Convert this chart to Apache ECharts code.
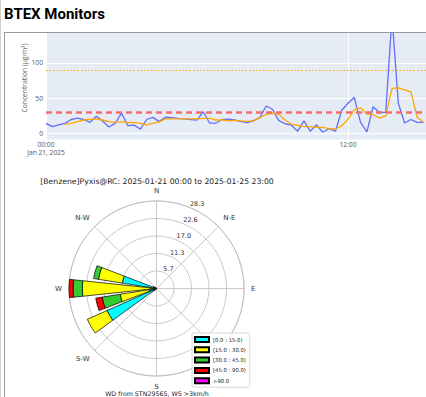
<!DOCTYPE html>
<html>
<head>
<meta charset="utf-8">
<script src="https://cdn.jsdelivr.net/npm/echarts@6/dist/echarts.min.js"></script>
<style>
  html, body { margin: 0; padding: 0; width: 426px; height: 397px; overflow: hidden; background: #fff; }
  #edge { position: absolute; left: 0; top: 0; width: 1px; height: 397px; background: #d0d0d0; }
  h2 { position: absolute; left: 4px; top: 5px; margin: 0; font: 700 15px Roboto, sans-serif; color: #000; }
  #box { position: absolute; left: 4px; top: 32px; width: 460px; height: 420px; border: 1px solid #999; }
  #chart { position: absolute; left: 0; top: 0; width: 426px; height: 397px; }
</style>
</head>
<body>
<div id="edge"></div>
<h2>BTEX Monitors</h2>
<div id="box"></div>
<div id="chart"></div>
<script>
  // 15-min readings from 2025-01-21 00:00
  const startTime = new Date(2025, 0, 21, 0, 0).getTime()
  const benzene = [14.6, 9.9, 12.5, 14.6, 20, 22, 20, 16, 24.5, 18, 9.5, 14.5, 29, 11.5, 12, 6.5,
    20, 23, 17, 23.5, 22.5, 21.5, 21, 20, 19, 31, 15, 15, 20, 20.5, 19.5, 17, 15.5, 18.5, 23, 39,
    34.5, 18.5, 14, 12, 3.5, 18, 3.5, 12.5, 2, 7, 3.5, 33, 43, 51, 16, 2.5, 38, 30, 30, 165, 43,
    15, 20, 16, 16]
  const benzeneAvg = [null, null, null, 13.2, 14.6, 17, 19.3, 20.3, 21, 19.3, 17, 16, 17, 15.6, 16,
    14.6, 12.3, 14.6, 16.5, 20.8, 20.8, 20.8, 20.8, 20.8, 20.8, 21.7, 21.7, 19.3, 19.3, 18.4, 18.9,
    18, 17.5, 18, 22.6, 27.4, 28.8, 27.4, 19.3, 13.2, 11.8, 9.9, 9.9, 9, 9, 7, 6.6, 11.3, 20.3, 34,
    36.5, 27.6, 27, 21.8, 25, 64, 64.6, 61.8, 59, 23, 16]
  const limitHigh = 90
  const limitLow = 30
  const yTicks = [0, 50, 100]

  // wind rose, 24 sectors of 15 deg starting at N
  const sectors = ['0', '15', '30', '45', '60', '75', '90', '105', '120', '135', '150', '165',
    '180', '195', '210', '225', '240', '255', '270', '285', '300', '315', '330', '345']
  // S-E sits under the legend in the original, so it is left blank
  const compass = ['N', 'N-E', 'E', '', 'S', 'S-W', 'W', 'N-W']
  const bin0 = [0, 0, 0, 0, 0, 0, 0, 0, 0, 0, 0, 0, 0, 0, 0, 1.0, 17.5, 2.5, 2, 11.2, 0.6, 0.5, 0, 0]
  const bin1 = [0, 0, 0, 0, 0, 0, 0, 0, 0, 0, 0, 0, 0, 0, 0, 0, 7.0, 9.4, 22, 7.8, 0.6, 0, 0, 0]
  const bin2 = [0, 0, 0, 0, 0, 0, 0, 0, 0, 0, 0, 0, 0, 0, 0, 0, 0, 5.9, 3, 1.6, 0, 0, 0, 0]
  const bin3 = [0, 0, 0, 0, 0, 0, 0, 0, 0, 0, 0, 0, 0, 0, 0, 0, 0, 2.1, 1.3, 0, 0, 0, 0, 0]
  const bin4 = [0, 0, 0, 0, 0, 0, 0, 0, 0, 0, 0, 0, 0, 0, 0, 0, 0, 0, 0, 0, 0, 0, 0, 0]
  const binNames = ['[0.0 : 15.0)', '[15.0 : 30.0)', '[30.0 : 45.0)', '[45.0 : 90.0)', '>90.0']
  const binColors = ['#00ffff', '#ffff00', '#33cc33', '#ff0000', '#ff00ff']
  const roseMax = 28.3

  const chart = echarts.init(document.getElementById('chart'), null, { renderer: 'svg' })
  const hour = 3600 * 1000
  const pad = n => (n < 10 ? '0' : '') + n
  const plotly = { fontFamily: '"Open Sans", sans-serif', fontSize: 6.7, color: '#555' }
  const mpl = '"DejaVu Sans", sans-serif'

  const roseSeries = [bin0, bin1, bin2, bin3, bin4].map((bin, i) => ({
    name: binNames[i],
    type: 'bar',
    coordinateSystem: 'polar',
    polarIndex: 1,
    stack: 'rose',
    barCategoryGap: '20%',
    data: bin.map(v => (v > 0 ? v : null)),
    itemStyle: { color: binColors[i], borderColor: '#000', borderWidth: 0.7 }
  }))

  chart.setOption({
    animation: false,
    grid: { left: 46, right: 0, top: 33, height: 106.5, backgroundColor: '#e5ecf6', show: true, borderWidth: 0 },
    xAxis: {
      type: 'value',
      min: startTime,
      max: startTime + 15.1 * hour,
      interval: 12 * hour,
      axisLine: { show: false },
      axisTick: { show: false },
      splitLine: { show: true, lineStyle: { color: '#fff', width: 1 } },
      axisLabel: {
        ...plotly,
        margin: 1,
        lineHeight: 7.7,
        showMaxLabel: false,
        formatter: (v, i) => {
          const d = new Date(v)
          const t = pad(d.getHours()) + ':' + pad(d.getMinutes())
          return i === 0 ? t + '\nJan 21, 2025' : t
        }
      }
    },
    yAxis: {
      type: 'value',
      min: -8.2,
      max: 142,
      axisLine: { show: false },
      axisTick: { show: false, customValues: yTicks },
      splitLine: { show: true, lineStyle: { color: '#fff', width: 1 } },
      axisLabel: { ...plotly, margin: 3, customValues: yTicks }
    },
    polar: [
      { center: [156.5, 288.5], radius: 87.5 },
      { center: [156.5, 288.5], radius: 87.5 },
      { center: [156.5, 288.5], radius: 87.5 }
    ],
    angleAxis: [
      {
        polarIndex: 0,
        type: 'value',
        min: 0,
        max: 360,
        interval: 45,
        startAngle: 90,
        clockwise: true,
        axisLine: { show: true, lineStyle: { color: '#bdbdbd', width: 0.8 } },
        axisTick: { show: false },
        splitLine: { show: true, lineStyle: { color: '#bdbdbd', width: 0.8 } },
        axisLabel: {
          margin: 7,
          align: 'center',
          verticalAlign: 'middle',
          lineHeight: 7,
          fontFamily: mpl,
          fontSize: 7,
          color: '#333',
          formatter: v => (v < 360 ? compass[v / 45] : '')
        }
      },
      {
        polarIndex: 1,
        type: 'category',
        data: sectors,
        startAngle: 97.5,
        clockwise: true,
        show: false
      },
      { polarIndex: 2, type: 'value', min: 0, max: 360, startAngle: 67.5, show: false }
    ],
    radiusAxis: [
      {
        polarIndex: 0,
        min: 0,
        max: roseMax,
        interval: roseMax / 5,
        axisLine: { show: false },
        axisTick: { show: false },
        axisLabel: { show: false },
        splitLine: { show: true, lineStyle: { color: '#bdbdbd', width: 0.8 } }
      },
      { polarIndex: 1, min: 0, max: roseMax, show: false },
      {
        polarIndex: 2,
        min: 0,
        max: roseMax,
        interval: roseMax / 5,
        axisLine: { show: false },
        axisTick: { show: false },
        splitLine: { show: false },
        axisLabel: {
          showMinLabel: false,
          align: 'left',
          verticalAlign: 'bottom',
          margin: 0,
          lineHeight: 7,
          fontFamily: mpl,
          fontSize: 6.5,
          color: '#333',
          formatter: v => v.toFixed(1)
        }
      }
    ],
    legend: {
      data: binNames,
      orient: 'vertical',
      left: 192,
      top: 333,
      icon: 'rect',
      itemWidth: 14,
      itemHeight: 5,
      itemGap: 3.3,
      padding: [3, 4, 3, 2],
      backgroundColor: 'rgba(255,255,255,0.85)',
      borderColor: '#ccc',
      borderWidth: 0.8,
      borderRadius: 2,
      textStyle: { fontFamily: mpl, fontSize: 5.3, color: '#222', padding: [0, 0, 0, -1] }
    },
    graphic: [
      {
        type: 'text',
        x: 24,
        y: 78,
        rotation: Math.PI / 2,
        style: { text: 'Concentration (μg/m³)', font: '6.7px "Open Sans"', fill: '#666', align: 'center', verticalAlign: 'middle' }
      },
      {
        type: 'text',
        x: 157,
        y: 181,
        style: { text: '[Benzene]Pyxis@RC: 2025-01-21 00:00 to 2025-01-25 23:00', font: '7.7px "DejaVu Sans"', fill: '#222', align: 'center', verticalAlign: 'middle' }
      },
      {
        type: 'text',
        x: 157,
        y: 393.5,
        style: { text: 'WD from STN29565, WS >3km/h', font: '6.3px "DejaVu Sans"', fill: '#222', align: 'center', verticalAlign: 'middle' }
      }
    ],
    series: [
      {
        type: 'line',
        showSymbol: false,
        data: benzene.map((v, i) => [startTime + i * hour / 4, v]),
        lineStyle: { color: '#636efa', width: 1.3 },
        itemStyle: { color: '#636efa' },
        markLine: {
          silent: true,
          symbol: 'none',
          label: { show: false },
          data: [
            { yAxis: limitHigh, lineStyle: { color: '#ffa500', type: [1.5, 2], width: 1.2 } },
            { yAxis: limitLow, lineStyle: { color: '#f26d6d', type: [6, 4], width: 2.5 } }
          ]
        }
      },
      {
        type: 'line',
        showSymbol: false,
        data: benzeneAvg.map((v, i) => [startTime + i * hour / 4, v]),
        lineStyle: { color: '#ffa500', width: 1.3 },
        itemStyle: { color: '#ffa500' }
      },
      ...roseSeries
    ]
  })
</script>
</body>
</html>
